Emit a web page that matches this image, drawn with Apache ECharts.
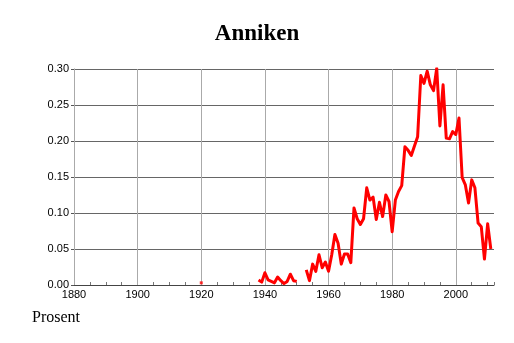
<!DOCTYPE html>
<html>
<head>
<meta charset="utf-8">
<script src="https://cdn.jsdelivr.net/npm/echarts@6/dist/echarts.min.js"></script>
<style>
html,body{margin:0;padding:0;background:#fff;}
#chart{width:514px;height:343px;}
</style>
</head>
<body>
<div id="chart"></div>
<script>
// ---- data ----
var titleText = "Anniken";
var yAxisName = "Prosent";
var firstYear = 1920;
var values = [
  0.003,                                                       // 1920
  null,null,null,null,null,null,null,null,null,null,            // 1921-1930
  null,null,null,null,null,null,null,                           // 1931-1937
  0.007,0.004,0.017,0.007,0.005,0.003,0.011,0.006,0.002,0.005,  // 1938-1947
  0.015,0.006,0.005,                                            // 1948-1950
  null,null,                                                    // 1951-1952
  0.021,0.006,0.029,0.019,0.042,0.024,0.032,0.019,0.042,0.070,  // 1953-1962
  0.058,0.029,0.043,0.043,0.031,0.107,0.092,0.084,0.092,0.135,  // 1963-1972
  0.118,0.122,0.091,0.115,0.095,0.125,0.116,0.074,0.118,0.130,  // 1973-1982
  0.138,0.192,0.187,0.180,0.193,0.206,0.291,0.280,0.297,0.278,  // 1983-1992
  0.270,0.301,0.221,0.278,0.204,0.203,0.213,0.209,0.232,0.149,  // 1993-2002
  0.139,0.114,0.146,0.135,0.086,0.081,0.036,0.085,0.050         // 2003-2011
];
var xTicks = [1880, 1900, 1920, 1940, 1960, 1980, 2000];
var yTicks = [0.00, 0.05, 0.10, 0.15, 0.20, 0.25, 0.30];

// ---- build ----
var lineData = values.map(function (v, i) { return [firstYear + i, v]; });
var isolated = [];
for (var i = 0; i < values.length; i++) {
  if (values[i] != null && (i === 0 || values[i-1] == null) && (i === values.length-1 || values[i+1] == null)) {
    isolated.push([firstYear + i, values[i]]);
  }
}

var chart = echarts.init(document.getElementById('chart'), null, {renderer: 'canvas'});
chart.setOption({
  animation: false,
  backgroundColor: '#fff',
  title: {
    text: titleText,
    left: 'center',
    top: 18,
    textStyle: {fontFamily: 'Liberation Serif', fontWeight: 'bold', fontSize: 23, color: '#000'}
  },
  graphic: [{
    type: 'text', left: 32, top: 310,
    style: {text: yAxisName, font: '16px "Liberation Serif"', fill: '#000'}
  }],
  grid: {left: 74, right: 20, top: 69, bottom: 58},
  xAxis: {
    type: 'value', min: 1880, max: 2012, interval: 20,
    axisLine: {show: true, lineStyle: {color: '#444', width: 1}},
    axisTick: {show: true, inside: true, length: 3, lineStyle: {color: '#777'}},
    minorTick: {show: true, splitNumber: 4, length: 3, lineStyle: {color: '#777'}},
    axisLabel: {
      show: true, margin: 4, color: '#000', fontSize: 11, fontFamily: 'Liberation Sans',
      showMaxLabel: false,
      formatter: function (v) { return xTicks.indexOf(v) >= 0 ? String(v) : ''; }
    },
    splitLine: {show: false}
  },
  yAxis: {
    type: 'value', min: 0, max: 0.3, interval: 0.05,
    axisLine: {show: true, lineStyle: {color: '#888', width: 1}},
    axisTick: {show: true, inside: false, length: 3, lineStyle: {color: '#555'}},
    axisLabel: {
      margin: 5, color: '#000', fontSize: 11, fontFamily: 'Liberation Sans',
      formatter: function (v) {
        for (var k = 0; k < yTicks.length; k++) if (Math.abs(yTicks[k] - v) < 1e-9) return yTicks[k].toFixed(2);
        return '';
      }
    },
    splitLine: {show: true, lineStyle: {color: '#666', width: 1}}
  },
  series: [{
    type: 'line',
    data: [],
    silent: true,
    z: 1,
    markLine: {
      silent: true,
      symbol: ['none', 'none'],
      label: {show: false},
      lineStyle: {color: '#aaa', width: 1, type: 'solid'},
      data: xTicks.map(function (t) { return {xAxis: t}; }),
      animation: false
    }
  }, {
    type: 'line',
    data: lineData,
    connectNulls: false,
    showSymbol: false,
    symbol: 'none',
    lineStyle: {color: '#ff0000', width: 3, join: 'round'},
    itemStyle: {color: '#ff0000'},
    z: 5
  }, {
    type: 'scatter',
    data: isolated,
    symbol: 'rect',
    symbolSize: [3, 3],
    itemStyle: {color: '#ff0000'},
    z: 5
  }]
});
</script>
</body>
</html>
